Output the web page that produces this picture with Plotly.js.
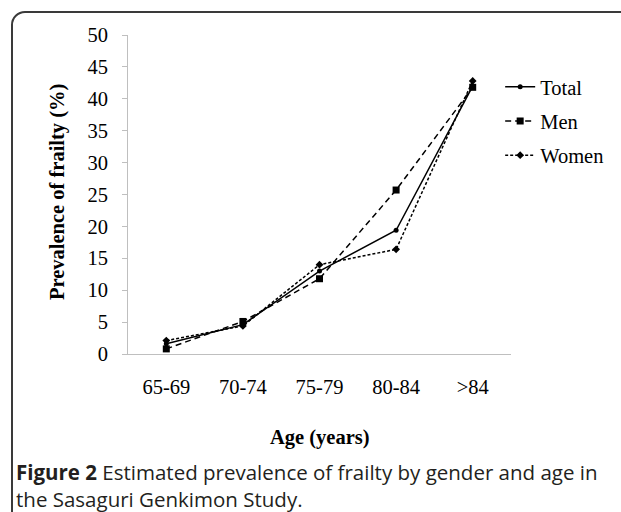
<!DOCTYPE html>
<html>
<head>
<meta charset="utf-8">
<script src="https://cdn.plot.ly/plotly-3.0.1.min.js"></script>
<style>
  html, body { margin: 0; padding: 0; background: #fff; }
  #wrap { position: relative; width: 621px; height: 512px; overflow: hidden; }
  #chart { width: 621px; height: 512px; }
  #frame { position: absolute; left: 11px; top: 11px; width: 640px; height: 540px;
           border: 2px solid #3a3a3a; border-top-left-radius: 14px; pointer-events: none; box-sizing: border-box; }
</style>
</head>
<body>
<div id="wrap">
  <div id="chart"></div>
  <div id="frame"></div>
</div>
<script>
const ageGroups = ["65-69", "70-74", "75-79", "80-84", ">84"];
const totalValues = [1.6, 4.6, 13.0, 19.4, 42.0];
const menValues = [0.8, 5.1, 11.8, 25.7, 41.8];
const womenValues = [2.1, 4.4, 14.0, 16.4, 42.8];
const yTickValues = [0, 5, 10, 15, 20, 25, 30, 35, 40, 45, 50];

const W = 621, H = 512;
const L = 128, R = 104, T = 35, B = 158;
const pw = W - L - R, ph = H - T - B;
const px = x => (x - L) / pw;
const py = y => (H - B - y) / ph;

const serif = "Liberation Serif, Times New Roman, serif";
const fs = 20.5;

const traces = [
  { name: "Total", x: ageGroups, y: totalValues, type: "scatter", mode: "lines+markers",
    legendgroup: "a", line: { color: "#000", width: 1.5, dash: "solid" },
    marker: { symbol: "circle", size: 5, color: "#000" } },
  { name: "Men", x: ageGroups, y: menValues, type: "scatter", mode: "lines+markers",
    legendgroup: "b", line: { color: "#000", width: 1.5, dash: "6px,4px" },
    marker: { symbol: "square", size: 7, color: "#000" } },
  { name: "Women", x: ageGroups, y: womenValues, type: "scatter", mode: "lines+markers",
    legendgroup: "c", line: { color: "#000", width: 1.5, dash: "3px,2px" },
    marker: { symbol: "diamond", size: 6, color: "#000" } }
];

const layout = {
  width: W, height: H,
  margin: { l: L, r: R, t: T, b: B, pad: 0 },
  paper_bgcolor: "#fff", plot_bgcolor: "#fff",
  font: { family: serif, color: "#000", size: fs },
  showlegend: true,
  legend: { x: px(506), y: py(67), xanchor: "left", yanchor: "top",
            font: { family: serif, size: fs, color: "#000" },
            tracegroupgap: 4.5, bgcolor: "rgba(0,0,0,0)" },
  xaxis: { type: "category", range: [-0.5, 4.5], showline: true, linecolor: "#bfbfbf", linewidth: 1,
           ticks: "", showgrid: false, zeroline: false, ticklabelstandoff: 14,
           tickfont: { family: serif, size: fs, color: "#000" } },
  yaxis: { range: [0, 50], tickvals: yTickValues, showline: true, linecolor: "#bfbfbf", linewidth: 1,
           ticks: "outside", ticklen: 5, tickcolor: "#bfbfbf", showgrid: false, zeroline: false,
           ticklabelstandoff: 10,
           tickfont: { family: serif, size: fs, color: "#000" } },
  annotations: [
    { text: "<b>Prevalence of frailty (%)</b>", xref: "paper", yref: "paper",
      x: px(56), y: py(192), xanchor: "center", yanchor: "middle", textangle: -90, showarrow: false,
      font: { family: serif, size: fs, color: "#000" } },
    { text: "<b>Age (years)</b>", xref: "paper", yref: "paper",
      x: px(323), y: py(437), xanchor: "center", yanchor: "middle", showarrow: false,
      font: { family: serif, size: fs, color: "#000" } },
    { text: "<b>Figure 2</b> Estimated prevalence of frailty by gender and age in<br>the Sasaguri Genkimon Study.",
      xref: "paper", yref: "paper", x: px(12), y: py(456), xanchor: "left", yanchor: "top",
      align: "left", showarrow: false,
      font: { family: "Open Sans, sans-serif", size: 20.5, color: "#231f20" } }
  ]
};

Plotly.newPlot("chart", traces, layout, { displayModeBar: false, staticPlot: true });
</script>
</body>
</html>
